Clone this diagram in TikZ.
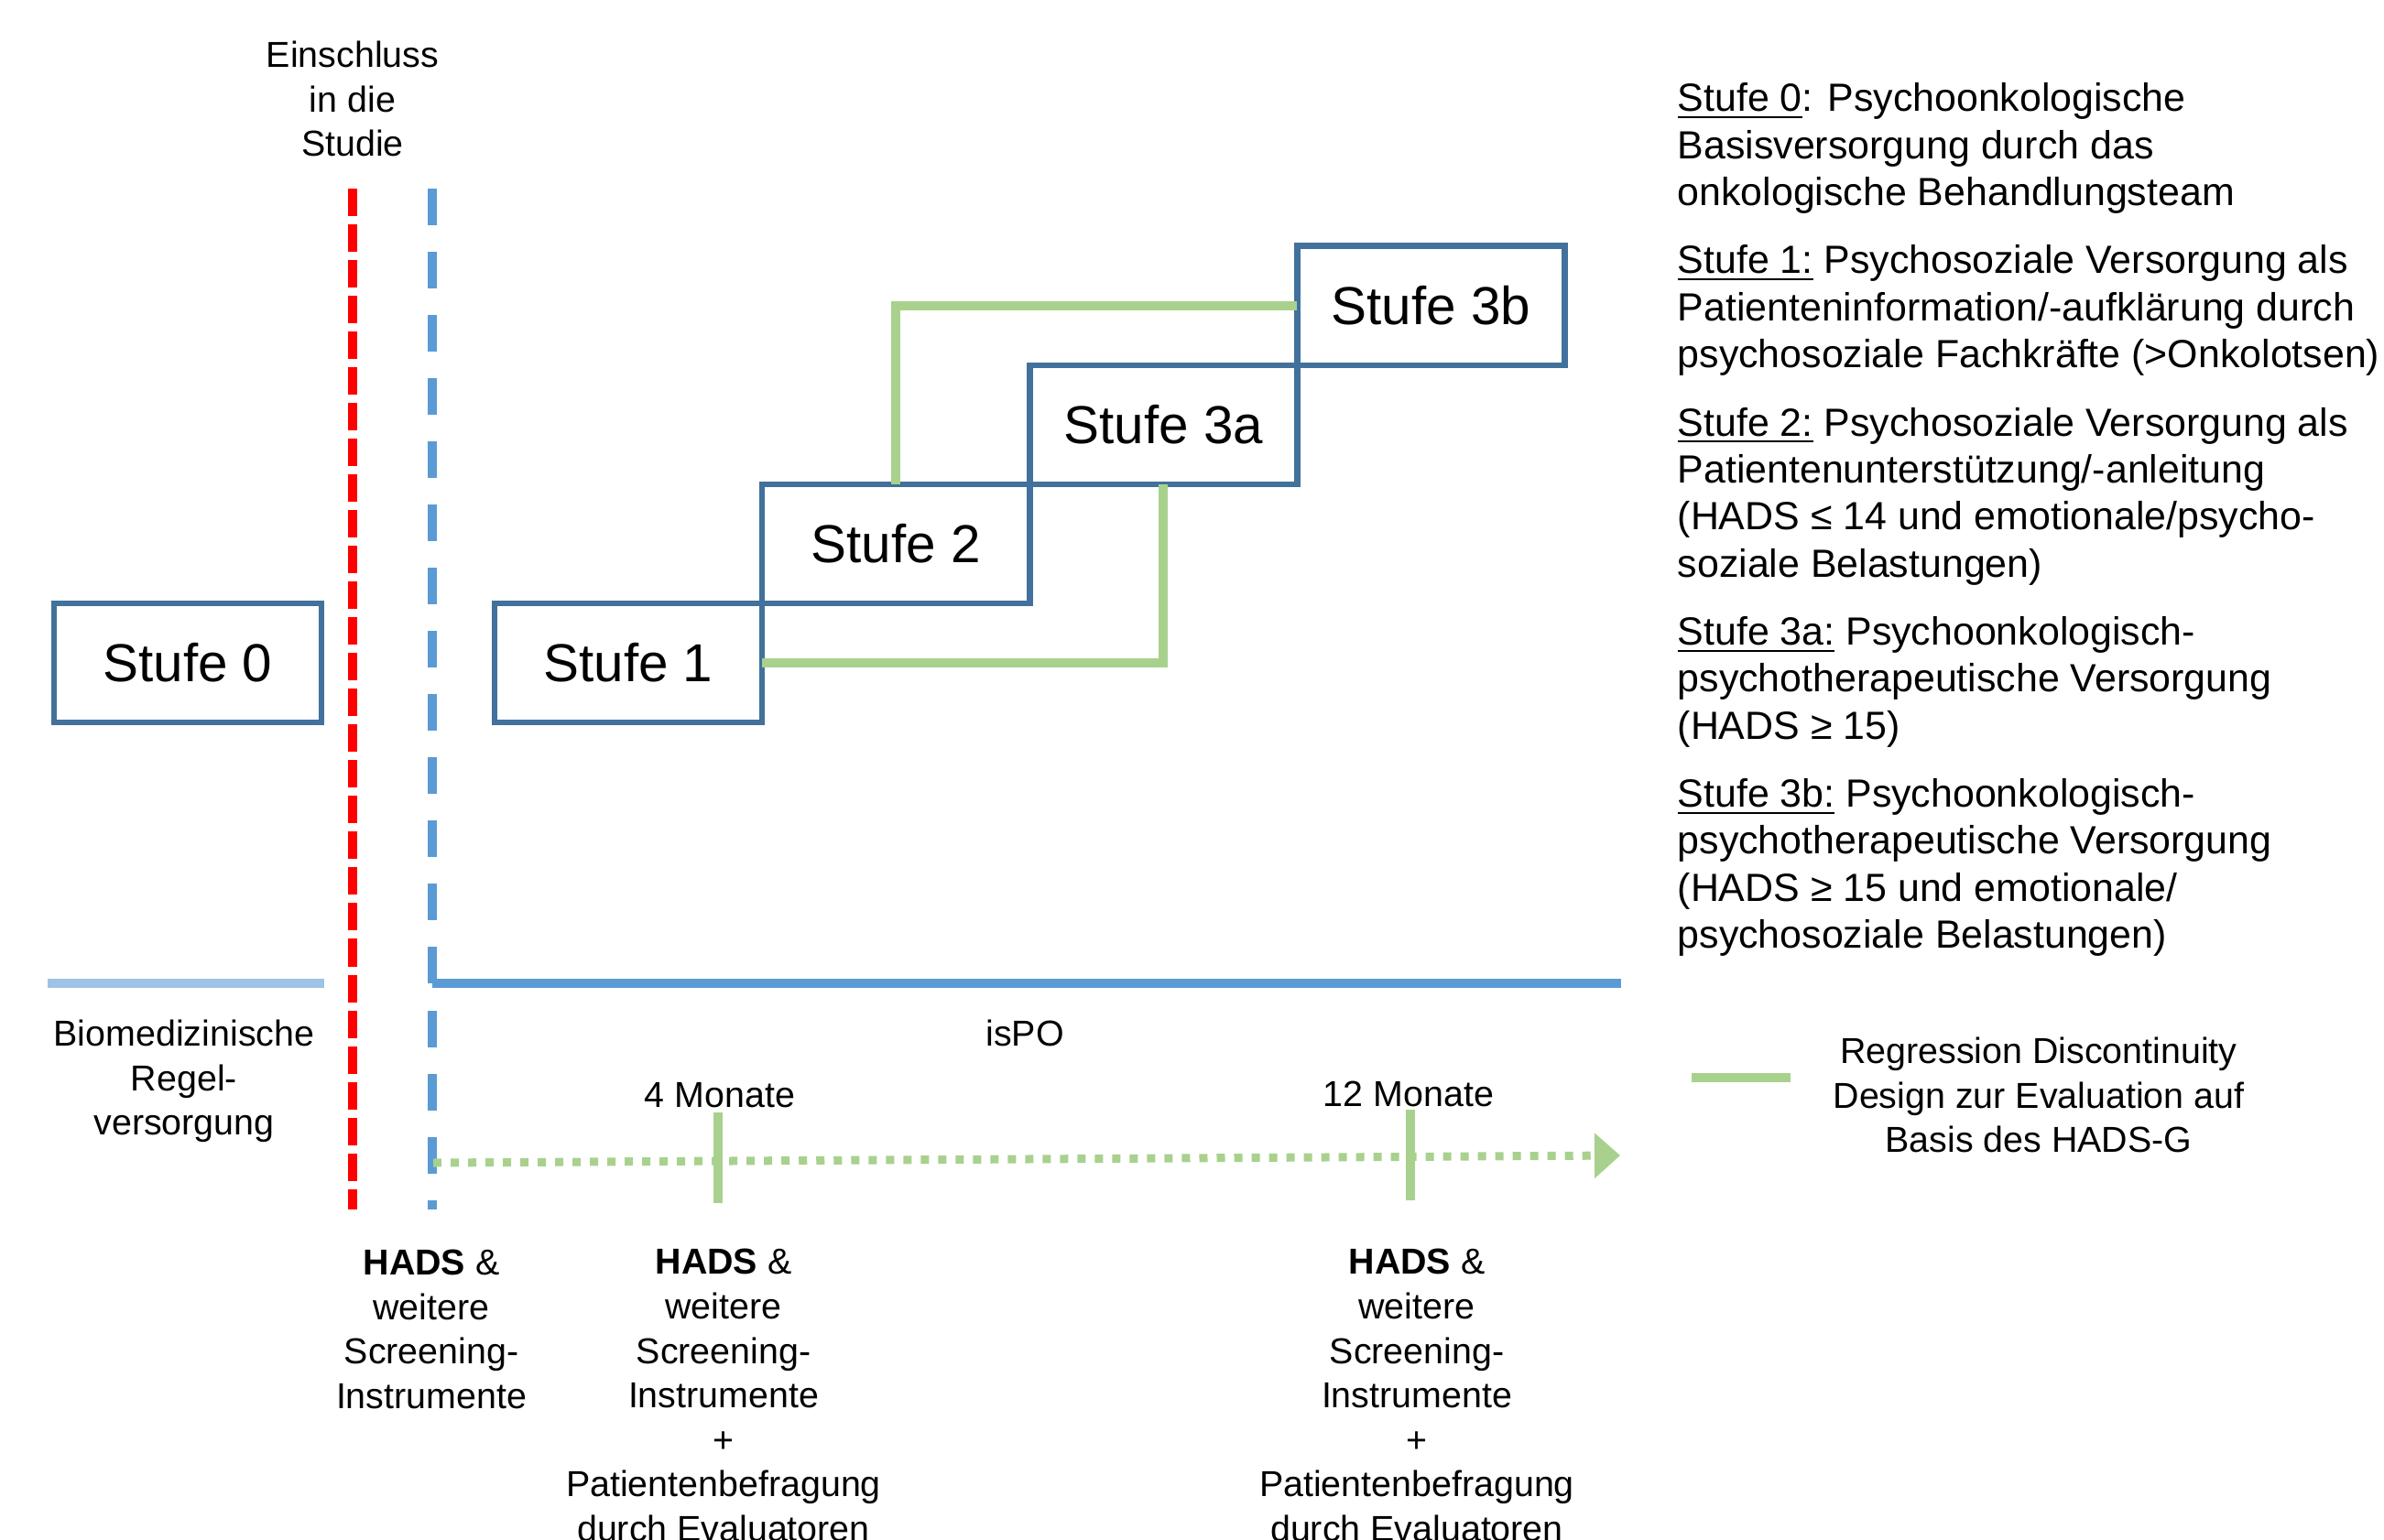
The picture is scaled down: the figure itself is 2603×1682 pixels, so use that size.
\documentclass[tikz,border=0pt]{standalone}
\usepackage{xcolor}
\usepackage{tikz}
\usetikzlibrary{arrows.meta,positioning,calc}
\usepackage{amsmath}
\usepackage{fontspec}
\setmainfont{Liberation Sans}

\definecolor{boxblue}{RGB}{65,113,156}
\definecolor{rdgreen}{RGB}{169,209,142}
\definecolor{ispoblue}{RGB}{91,155,213}
\definecolor{regelblue}{RGB}{157,195,230}

\begin{document}
\begin{tikzpicture}[x=0.01cm,y=-0.01cm,>={Triangle[length=2.8mm,width=4.8mm]},
				line cap=butt]
				\useasboundingbox (0,0) rectangle (2603,1682);
				\tikzstyle{stufe}=[draw=boxblue,line width=1.85pt,minimum width=2.92cm,minimum height=1.3cm,inner sep=0pt,outer sep=0pt,font=\fontsize{16.6}{20}\selectfont]
				\tikzstyle{lbl}=[align=center,inner sep=0pt,font=\fontsize{11.2}{13.8}\selectfont]
				\tikzstyle{leg}=[align=left,inner sep=0pt,font=\fontsize{12.2}{14.6}\selectfont]
				\tikzstyle{rd}=[draw=rdgreen,line width=2.8pt]
				\tikzstyle{tick}=[draw=rdgreen,line width=2.7pt]
				
				\coordinate (rtop) at (385,206);
				\coordinate (rbot) at (385,1321);
				\coordinate (btop) at (472,206);
				\coordinate (bbot) at (472,1321);
				\coordinate (regA) at (52,1074);
				\coordinate (regB) at (354,1074);
				\coordinate (ispoA) at (472,1074);
				\coordinate (ispoB) at (1770,1074);
				\coordinate (tA) at (473,1270);
				\coordinate (tB) at (1769,1262);
				\coordinate (m4a) at (784,1215);
				\coordinate (m4b) at (784,1314);
				\coordinate (m12a) at (1540,1212);
				\coordinate (m12b) at (1540,1311);
				\coordinate (keyA) at (1847,1177);
				\coordinate (keyB) at (1955,1177);
				
				\draw[red,line width=2.8pt,dash pattern=on 0.30cm off 0.09cm] (rtop) -- (rbot);
				\draw[ispoblue,line width=2.75pt,dash pattern=on 0.40cm off 0.29cm] (btop) -- (bbot);
				\draw[ispoblue,line width=2.7pt] (ispoA) -- (ispoB);
				\draw[regelblue,line width=2.7pt] (regA) -- (regB);
				\draw[rdgreen,line width=2.56pt,dash pattern=on 0.09cm off 0.10cm,->] (tA) -- (tB);
				\draw[tick] (m4a) -- (m4b);
				\draw[tick] (m12a) -- (m12b);
				
				\node[stufe]   (S0) at (205,724) {Stufe 0};
				\node[stufe]   (S1) at (686,724) {Stufe 1};
				\node[stufe]   (S2) [above right = 0cm and 0cm of S1] {Stufe 2};
				\node[stufe]   (S3a) [above right = 0cm and 0cm of S2] {Stufe 3a};
				\node[stufe]   (S3b) [above right = 0cm and 0cm of S3a] {Stufe 3b};
				
				\draw[rd] (S3b.west) -| (S2.north);
				\draw[rd] (S1.east) -| (S3a.south);
				
				\node[lbl] (einschluss) at (385,108) {Einschluss\\in die\\Studie};
				\node[lbl] (regel) at (201,1181) {Biomedizinische\\Regel-\\versorgung};
				\node[lbl] (ispo) at (1119,1128) {isPO};
				\node[lbl] (m4) at (786,1196) {4 Monate};
				\node[lbl] (m12) at (1538,1195) {12 Monate};
				\node[lbl] (hads0) at (471,1452) {\textbf{HADS} \&\\weitere\\Screening-\\Instrumente};
				\node[lbl] (hads4) at (790,1524) {\textbf{HADS} \&\\weitere\\Screening-\\Instrumente\\+\\Patientenbefragung\\durch Evaluatoren};
				\node[lbl] (hads12) at (1547,1524) {\textbf{HADS} \&\\weitere\\Screening-\\Instrumente\\+\\Patientenbefragung\\durch Evaluatoren};
				
				\node[leg,anchor=north west] (L0) at (1831,90) {\underline{Stufe 0}: Psychoonkologische\\Basisversorgung durch das\\onkologische Behandlungsteam};
				\node[leg] (L1) [below = 0.33cm of L0.south west,anchor=north west] {\underline{Stufe 1:} Psychosoziale Versorgung als\\Patienteninformation/-aufklärung durch\\psychosoziale Fachkräfte (>Onkolotsen)};
				\node[leg] (L2) [below = 0.33cm of L1.south west,anchor=north west] {\underline{Stufe 2:} Psychosoziale Versorgung als\\Patientenunterstützung/-anleitung\\(HADS ≤ 14 und emotionale/psycho-\\soziale Belastungen)};
				\node[leg] (L3) [below = 0.33cm of L2.south west,anchor=north west] {\underline{Stufe 3a:} Psychoonkologisch-\\psychotherapeutische Versorgung\\(HADS ≥ 15)};
				\node[leg] (L4) [below = 0.33cm of L3.south west,anchor=north west] {\underline{Stufe 3b:} Psychoonkologisch-\\psychotherapeutische Versorgung\\(HADS ≥ 15 und emotionale/\\psychosoziale Belastungen)};
				
				\draw[rd] (keyA) -- (keyB);
				\node[lbl] (key) at (2226,1196) {Regression Discontinuity\\Design zur Evaluation auf\\Basis des HADS-G};
			\end{tikzpicture}
\end{document}
